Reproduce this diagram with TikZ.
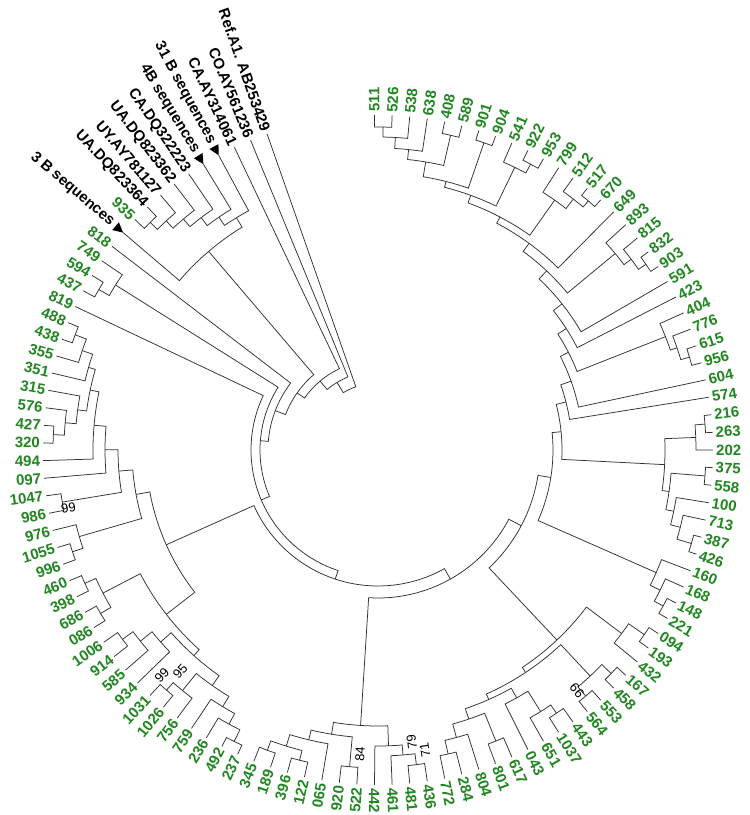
\documentclass[tikz,border=0pt]{standalone}
\usepackage{fontspec}
\setmainfont{Liberation Sans}
\definecolor{leafg}{RGB}{34,134,34}
\definecolor{brc}{RGB}{50,50,50}
\newcommand\tipr{335}
\newcommand\labr{338}
\tikzset{
  branch/.style={draw=brc,line width=0.75pt},
  leaf/.style={font=\bfseries\fontsize{15}{15}\selectfont,inner sep=0pt},
  gleaf/.style={text=leafg},
  kleaf/.style={text=black},
  bs/.style={font=\fontsize{13}{13}\selectfont,inner sep=0pt,text=black}
}
% leaf: name, index, text, colour style
\newcommand\Lf[4]{%
  \pgfmathsetmacro\tmpa{93.62-3.02*#2}%
  \expandafter\xdef\csname TA#1\endcsname{\tmpa}%
  \coordinate (#1) at (\tmpa:\tipr);%
  \pgfmathsetmacro\tmpc{cos(\tmpa)}%
  \ifdim\tmpc pt<-0.012pt
    \pgfmathsetmacro\tmpr{\tmpa+180}%
    \node[leaf,#4,anchor=east,rotate=\tmpr] (t#1) at (\tmpa:\labr) {#3};%
  \else
    \node[leaf,#4,anchor=west,rotate=\tmpa] (t#1) at (\tmpa:\labr) {#3};%
  \fi}
% collapsed leaf with triangle: name, index, text
\newcommand\Lt[3]{%
  \pgfmathsetmacro\tmpa{93.62-3.02*#2}%
  \expandafter\xdef\csname TA#1\endcsname{\tmpa}%
  \coordinate (#1) at (\tmpa:\tipr);%
  \pgfmathsetmacro\tmpp{\tmpa+0.85}%
  \pgfmathsetmacro\tmpm{\tmpa-0.85}%
  \pgfmathsetmacro\tmpo{\tipr+10}%
  \pgfmathsetmacro\tmpl{\tipr+14}%
  \pgfmathsetmacro\tmpr{\tmpa+180}%
  \fill[black] (#1) -- (\tmpp:\tmpo) -- (\tmpm:\tmpo) -- cycle;%
  \node[leaf,kleaf,anchor=east,rotate=\tmpr] (t#1) at (\tmpa:\tmpl) {#3};}
% internal node: name, radius, child1, child2
\newcommand\Nd[4]{%
  \edef\tmpaa{\csname TA#3\endcsname}%
  \edef\tmpab{\csname TA#4\endcsname}%
  \pgfmathsetmacro\tmpam{(\tmpaa+\tmpab)/2}%
  \expandafter\xdef\csname TA#1\endcsname{\tmpam}%
  \coordinate (#1) at (\tmpam:#2);%
  \draw[branch] (#3) -- (\tmpaa:#2) arc[start angle=\tmpaa, end angle=\tmpab, radius=#2pt] -- (#4);}
\begin{document}
\begin{tikzpicture}[x=1pt,y=1pt]
\useasboundingbox (0,0) rectangle (750,815);
\fill[white] (0,0) rectangle (750,815);
\begin{scope}[shift={(378,365)}]
% ---------------- leaves ----------------
\Lf{x511}{1}{511}{gleaf}
\Lf{x526}{2}{526}{gleaf}
\Lf{x538}{3}{538}{gleaf}
\Lf{x638}{4}{638}{gleaf}
\Lf{x408}{5}{408}{gleaf}
\Lf{x589}{6}{589}{gleaf}
\Lf{x901}{7}{901}{gleaf}
\Lf{x904}{8}{904}{gleaf}
\Lf{x541}{9}{541}{gleaf}
\Lf{x922}{10}{922}{gleaf}
\Lf{x953}{11}{953}{gleaf}
\Lf{x799}{12}{799}{gleaf}
\Lf{x512}{13}{512}{gleaf}
\Lf{x517}{14}{517}{gleaf}
\Lf{x670}{15}{670}{gleaf}
\Lf{x649}{16}{649}{gleaf}
\Lf{x893}{17}{893}{gleaf}
\Lf{x815}{18}{815}{gleaf}
\Lf{x832}{19}{832}{gleaf}
\Lf{x903}{20}{903}{gleaf}
\Lf{x591}{21}{591}{gleaf}
\Lf{x423}{22}{423}{gleaf}
\Lf{x404}{23}{404}{gleaf}
\Lf{x776}{24}{776}{gleaf}
\Lf{x615}{25}{615}{gleaf}
\Lf{x956}{26}{956}{gleaf}
\Lf{x604}{27}{604}{gleaf}
\Lf{x574}{28}{574}{gleaf}
\Lf{x216}{29}{216}{gleaf}
\Lf{x263}{30}{263}{gleaf}
\Lf{x202}{31}{202}{gleaf}
\Lf{x375}{32}{375}{gleaf}
\Lf{x558}{33}{558}{gleaf}
\Lf{x100}{34}{100}{gleaf}
\Lf{x713}{35}{713}{gleaf}
\Lf{x387}{36}{387}{gleaf}
\Lf{x426}{37}{426}{gleaf}
\Lf{x160}{38}{160}{gleaf}
\Lf{x168}{39}{168}{gleaf}
\Lf{x148}{40}{148}{gleaf}
\Lf{x221}{41}{221}{gleaf}
\Lf{x094}{42}{094}{gleaf}
\Lf{x193}{43}{193}{gleaf}
\Lf{x432}{44}{432}{gleaf}
\Lf{x167}{45}{167}{gleaf}
\Lf{x458}{46}{458}{gleaf}
\Lf{x553}{47}{553}{gleaf}
\Lf{x564}{48}{564}{gleaf}
\Lf{x443}{49}{443}{gleaf}
\Lf{x1037}{50}{1037}{gleaf}
\Lf{x651}{51}{651}{gleaf}
\Lf{x043}{52}{043}{gleaf}
\Lf{x617}{53}{617}{gleaf}
\Lf{x801}{54}{801}{gleaf}
\Lf{x804}{55}{804}{gleaf}
\Lf{x284}{56}{284}{gleaf}
\Lf{x772}{57}{772}{gleaf}
\Lf{x436}{58}{436}{gleaf}
\Lf{x481}{59}{481}{gleaf}
\Lf{x461}{60}{461}{gleaf}
\Lf{x442}{61}{442}{gleaf}
\Lf{x522}{62}{522}{gleaf}
\Lf{x920}{63}{920}{gleaf}
\Lf{x065}{64}{065}{gleaf}
\Lf{x122}{65}{122}{gleaf}
\Lf{x396}{66}{396}{gleaf}
\Lf{x189}{67}{189}{gleaf}
\Lf{x345}{68}{345}{gleaf}
\Lf{x237}{69}{237}{gleaf}
\Lf{x492}{70}{492}{gleaf}
\Lf{x236}{71}{236}{gleaf}
\Lf{x759}{72}{759}{gleaf}
\Lf{x756}{73}{756}{gleaf}
\Lf{x1026}{74}{1026}{gleaf}
\Lf{x1031}{75}{1031}{gleaf}
\Lf{x934}{76}{934}{gleaf}
\Lf{x585}{77}{585}{gleaf}
\Lf{x914}{78}{914}{gleaf}
\Lf{x1006}{79}{1006}{gleaf}
\Lf{x086}{80}{086}{gleaf}
\Lf{x686}{81}{686}{gleaf}
\Lf{x398}{82}{398}{gleaf}
\Lf{x460}{83}{460}{gleaf}
\Lf{x996}{84}{996}{gleaf}
\Lf{x1055}{85}{1055}{gleaf}
\Lf{x976}{86}{976}{gleaf}
\Lf{x986}{87}{986}{gleaf}
\Lf{x1047}{88}{1047}{gleaf}
\Lf{x097}{89}{097}{gleaf}
\Lf{x494}{90}{494}{gleaf}
\Lf{x320}{91}{320}{gleaf}
\Lf{x427}{92}{427}{gleaf}
\Lf{x576}{93}{576}{gleaf}
\Lf{x315}{94}{315}{gleaf}
\Lf{x351}{95}{351}{gleaf}
\Lf{x355}{96}{355}{gleaf}
\Lf{x438}{97}{438}{gleaf}
\Lf{x488}{98}{488}{gleaf}
\Lf{x819}{99}{819}{gleaf}
\Lf{x437}{100}{437}{gleaf}
\Lf{x594}{101}{594}{gleaf}
\Lf{x749}{102}{749}{gleaf}
\Lf{x818}{103}{818}{gleaf}
\Lt{xT3}{104}{3 B sequences}
\Lf{x935}{105}{935}{gleaf}
\Lf{xUA64}{106}{UA.DQ823364}{kleaf}
\Lf{xUY}{107}{UY.AY781127}{kleaf}
\Lf{xUA62}{108}{UA.DQ823362}{kleaf}
\Lf{xCADQ}{109}{CA.DQ322223}{kleaf}
\Lt{xT4}{110}{4B sequences}
\Lt{xT31}{111}{31 B sequences}
\Lf{xCAAY}{112}{CA.AY314061}{kleaf}
\Lf{xCO}{113}{CO.AY561236}{kleaf}
\Lf{xRef}{114}{Ref.A1. AB253429}{kleaf}
% ---------------- internal nodes ----------------
\Nd{a}{323}{x511}{x526}
\Nd{b}{313}{a}{x538}
\Nd{c}{302}{b}{x638}
\Nd{d}{323}{x408}{x589}
\Nd{e}{292}{c}{d}
\Nd{f}{325}{x901}{x904}
\Nd{g}{277}{e}{f}
\Nd{h}{324}{x922}{x953}
\Nd{i}{314}{x541}{h}
\Nd{j}{271}{g}{i}
\Nd{k}{326}{x517}{x670}
\Nd{l}{318}{x512}{k}
\Nd{m}{306}{x799}{l}
\Nd{TC}{263}{j}{m}
\Nd{S8}{256}{TC}{x649}
\Nd{G1}{326}{x832}{x903}
\Nd{G2}{317}{x815}{G1}
\Nd{G3}{308}{x893}{G2}
\Nd{S7}{246}{S8}{G3}
\Nd{S6}{235}{S7}{x591}
\Nd{S5}{224}{S6}{x423}
\Nd{H1}{325}{x615}{x956}
\Nd{H2}{316}{x776}{H1}
\Nd{H3}{309}{x404}{H2}
\Nd{S4}{214}{S5}{H3}
\Nd{S3}{205}{S4}{x604}
\Nd{S2}{194}{S3}{x574}
\Nd{A1}{328}{x216}{x263}
\Nd{A2}{318}{A1}{x202}
\Nd{B1}{328}{x375}{x558}
\Nd{B4}{327}{x387}{x426}
\Nd{C2}{312}{x713}{B4}
\Nd{C1}{302}{x100}{C2}
\Nd{Bg}{294}{B1}{C1}
\Nd{A3}{287}{A2}{Bg}
\Nd{S1}{184}{S2}{A3}
\Nd{D1}{325}{x148}{x221}
\Nd{D2}{315}{x168}{D1}
\Nd{D3}{304}{x160}{D2}
\Nd{S0}{175}{S1}{D3}
\Nd{E1a}{324}{x094}{x193}
\Nd{E1}{305}{E1a}{x432}
\Nd{F1}{323}{x167}{x458}
\Nd{F2}{322}{x553}{x564}
\Nd{F}{310}{F1}{F2}
\Nd{K2}{318}{x443}{x1037}
\Nd{K}{308}{K2}{x651}
\Nd{M}{284}{K}{x043}
\Nd{Lp}{314}{x617}{x801}
\Nd{L3}{312}{x284}{x772}
\Nd{L2}{298}{x804}{L3}
\Nd{L1}{284}{Lp}{L2}
\Nd{I}{273}{M}{L1}
\Nd{Gn}{267}{F}{I}
\Nd{E0}{261}{E1}{Gn}
\Nd{T0}{162}{S0}{E0}
\Nd{N1}{317}{x436}{x481}
\Nd{N2}{306}{N1}{x461}
\Nd{N3}{296}{N2}{x442}
\Nd{V}{318}{x522}{x920}
\Nd{Tq}{320}{x122}{x396}
\Nd{Sq}{320}{x189}{x345}
\Nd{Rq}{310}{Tq}{Sq}
\Nd{Q}{298}{x065}{Rq}
\Nd{P}{288}{V}{Q}
\Nd{N4}{276}{N3}{P}
\Nd{T1}{148}{T0}{N4}
\Nd{Zd1}{325}{x237}{x492}
\Nd{Zd2}{312}{Zd1}{x236}
\Nd{Zd3}{300}{Zd2}{x759}
\Nd{Z1}{320}{x1026}{x1031}
\Nd{Z2}{310}{x756}{Z1}
\Nd{Zd4}{288}{Zd3}{Z2}
\Nd{Y0}{318}{x914}{x1006}
\Nd{Y1}{305}{x585}{Y0}
\Nd{Y}{290}{x934}{Y1}
\Nd{X4}{276}{Zd4}{Y}
\Nd{X3a}{322}{x398}{x460}
\Nd{X3b}{322}{x086}{x686}
\Nd{X3}{310}{X3b}{X3a}
\Nd{X2}{268}{X4}{X3}
\Nd{X1a}{322}{x996}{x1055}
\Nd{X1}{311}{X1a}{x976}
\Nd{K1}{320}{x986}{x1047}
\Nd{LC4a}{325}{x320}{x427}
\Nd{LC4b}{314}{LC4a}{x576}
\Nd{LC4c}{303}{LC4b}{x315}
\Nd{LC1}{324}{x438}{x488}
\Nd{LC2}{312}{x355}{LC1}
\Nd{LC3}{301}{x351}{LC2}
\Nd{LC5}{294}{LC4c}{LC3}
\Nd{LC6}{285}{x494}{LC5}
\Nd{LC7}{273}{x097}{LC6}
\Nd{LC8}{260}{K1}{LC7}
\Nd{LC9}{246}{X1}{LC8}
\Nd{W0}{232}{X2}{LC9}
\Nd{T2}{136}{T1}{W0}
\Nd{T3}{127}{T2}{x819}
\Nd{P1a}{322}{x437}{x594}
\Nd{P1}{310}{P1a}{x749}
\Nd{T4}{118}{T3}{P1}
\Nd{R4}{110}{T4}{x818}
\Nd{B1b}{322}{x935}{xUA64}
\Nd{B2b}{312}{B1b}{xUY}
\Nd{B3b}{302}{B2b}{xUA62}
\Nd{B4b}{292}{B3b}{xCADQ}
\Nd{B5b}{282}{B4b}{xT4}
\Nd{B6b}{272}{B5b}{xT31}
\Nd{B7}{261}{xT3}{B6b}
\Nd{R3}{99}{R4}{B7}
\Nd{R2}{90}{R3}{xCAAY}
\Nd{R1}{79}{R2}{xCO}
\Nd{R0}{67}{R1}{xRef}
% ---------------- bootstrap values ----------------
\node[bs,rotate=10.66] (bK1) at (-169.34:315) {99};
\node[bs,rotate=46.13] (bZ1) at (-133.87:312) {99};
\node[bs,rotate=48.2] (bZ2) at (-131.77:297) {95};
\node[bs,rotate=86.6] (bV) at (-93.38:305) {84};
\node[bs,rotate=96.6] (bN2) at (-83.41:294) {79};
\node[bs,rotate=98.9] (bN1) at (-81.1:304) {71};
\node[bs,rotate=129.6] (bF2) at (-50.38:312) {99};
\end{scope}
\end{tikzpicture}
\end{document}
